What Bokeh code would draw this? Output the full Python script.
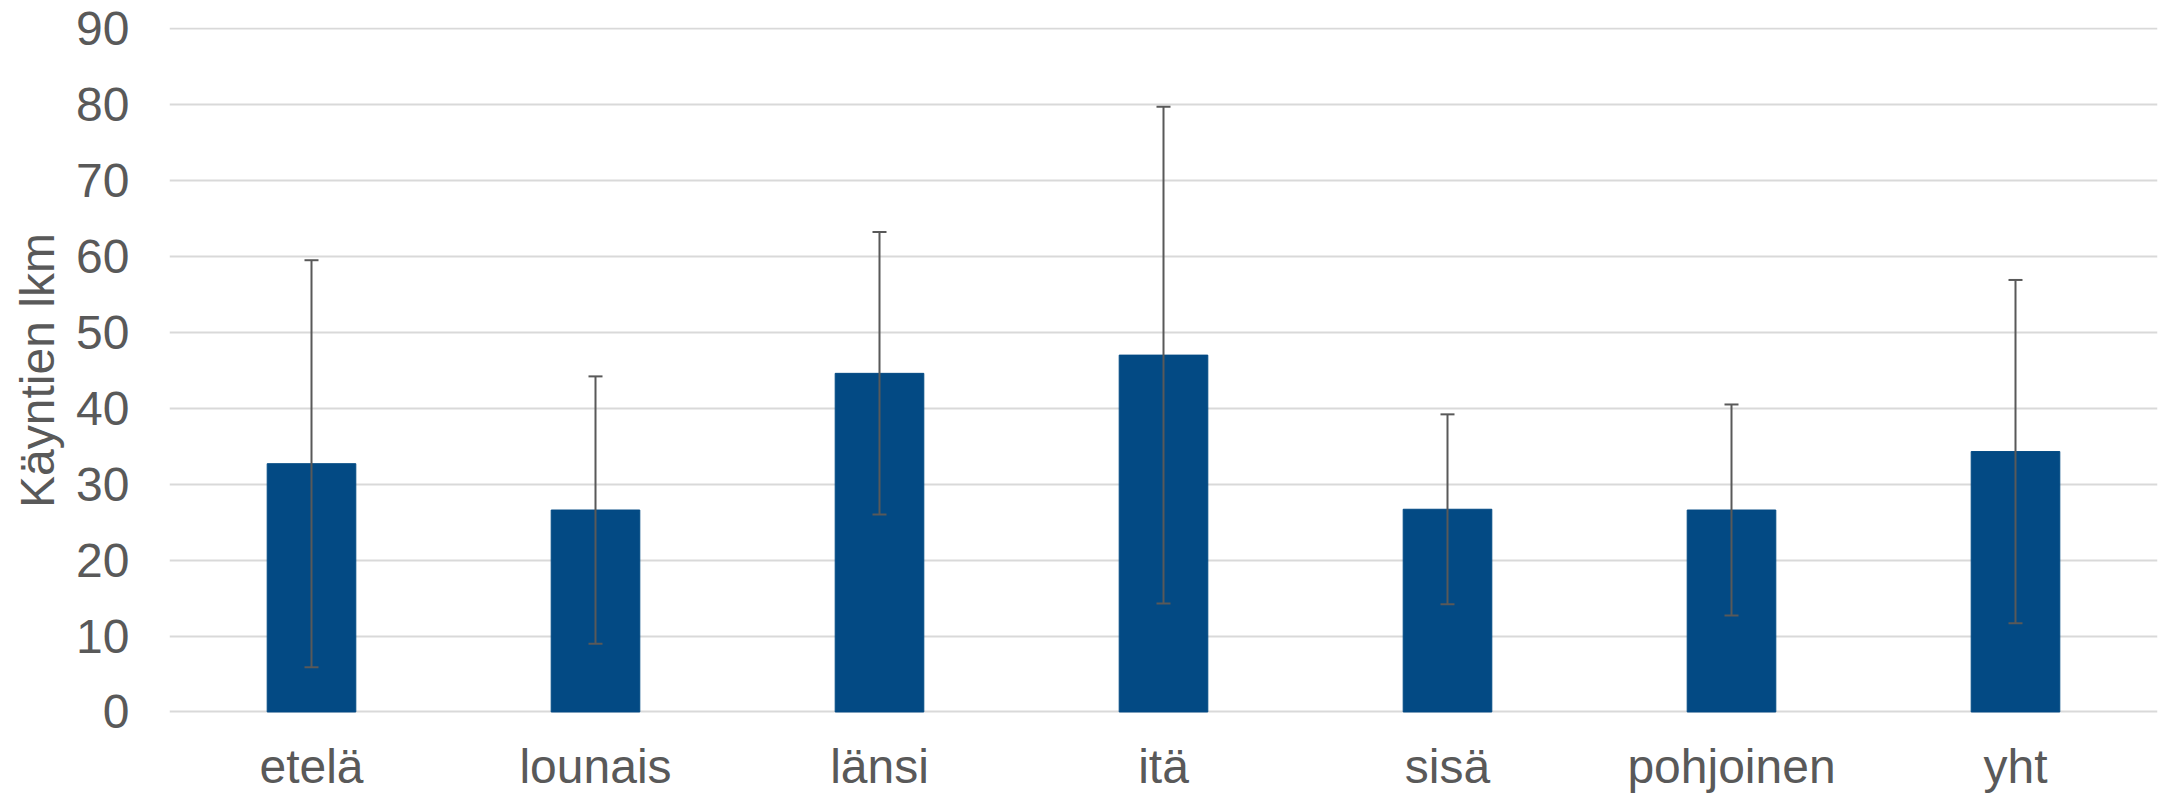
from bokeh.plotting import figure
from bokeh.models import ColumnDataSource, Whisker, TeeHead, FixedTicker, Range1d, FactorRange
from bokeh.embed import file_html
from bokeh.resources import INLINE

categories = ["etelä", "lounais", "länsi", "itä", "sisä", "pohjoinen", "yht"]
means = [32.7, 26.6, 44.6, 47.0, 26.7, 26.6, 34.3]
sd = [26.8, 17.6, 18.6, 32.7, 12.5, 13.9, 22.6]
y_ticks = [0, 10, 20, 30, 40, 50, 60, 70, 80, 90]
y_label = "Käyntien lkm"

upper = [m + s for m, s in zip(means, sd)]
lower = [m - s for m, s in zip(means, sd)]
src = ColumnDataSource(dict(cat=categories, mean=means, upper=upper, lower=lower))

FONT = "Liberation Sans"
TXT = "#595959"

p = figure(x_range=FactorRange(*categories), y_range=Range1d(-0.2, 90.15),
           width=2158, height=795, output_backend="svg", toolbar_location=None,
           min_border_left=169, min_border_right=1, min_border_top=27, min_border_bottom=82)
p.outline_line_color = None
p.background_fill_color = "white"

p.vbar(x="cat", top="mean", bottom=0, width=0.312, source=src,
       fill_color="#034A84", line_color="#034A84")

w = Whisker(base="cat", upper="upper", lower="lower", source=src,
            line_color="#595959", line_width=2, level="overlay",
            upper_head=TeeHead(size=14, line_color="#595959", line_width=2),
            lower_head=TeeHead(size=14, line_color="#595959", line_width=2))
p.add_layout(w)

p.xgrid.grid_line_color = None
p.ygrid.grid_line_color = "#d9d9d9"
p.ygrid.grid_line_width = 2
p.yaxis.ticker = FixedTicker(ticks=y_ticks)

for ax in (p.xaxis[0], p.yaxis[0]):
    ax.axis_line_color = None
    ax.major_tick_line_color = None
    ax.minor_tick_line_color = None
    ax.major_tick_out = 0
    ax.major_tick_in = 0
    ax.major_label_text_font = FONT
    ax.major_label_text_font_size = "48px"
    ax.major_label_text_color = TXT

p.xaxis.major_label_standoff = 26
p.yaxis.major_label_standoff = 40
p.yaxis.axis_label = y_label
p.yaxis.axis_label_text_font = FONT
p.yaxis.axis_label_text_font_size = "48px"
p.yaxis.axis_label_text_font_style = "normal"
p.yaxis.axis_label_text_color = TXT
p.yaxis.axis_label_standoff = 9

open("out.html", "w").write(file_html(p, INLINE))
